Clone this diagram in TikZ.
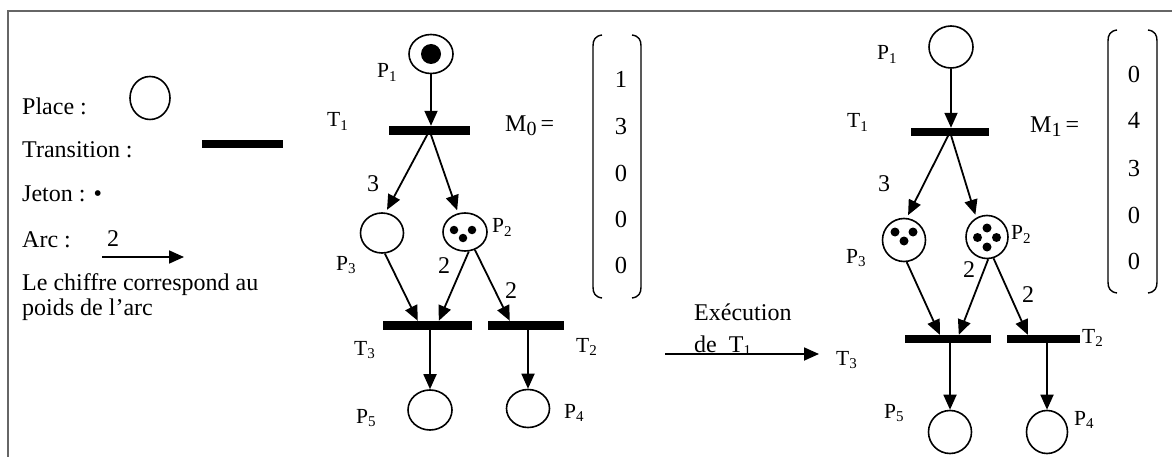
\documentclass[tikz,border=0pt]{standalone}
\usepackage{fontspec}
\setmainfont{Liberation Serif}
\usetikzlibrary{arrows.meta,shapes.geometric,calc}
\newcommand{\psub}[1]{\raisebox{-0.35ex}{\fontsize{15}{15}\selectfont #1}}
\newcommand{\msub}[1]{\raisebox{-0.3ex}{\fontsize{20}{20}\selectfont #1}}
\begin{document}
\begin{tikzpicture}[x=1pt,y=-1pt,
  place/.style={ellipse,draw,line width=1.6pt,minimum width=44pt,minimum height=40pt,inner sep=0pt},
  trans/.style={rectangle,fill=black,inner sep=0pt,minimum height=9pt},
  tok/.style={circle,fill=black,inner sep=0pt,minimum size=8.5pt},
  arc/.style={line width=1.8pt,-{Triangle[length=15pt,width=13pt]}},
  lbl/.style={anchor=base west,inner sep=0pt,font=\fontsize{21.5}{21.5}\selectfont},
  txt/.style={anchor=base west,inner sep=0pt,font=\fontsize{24}{27}\selectfont},
  val/.style={anchor=base,inner sep=0pt,font=\fontsize{24.5}{24.5}\selectfont},
  brk/.style={line width=1.4pt},
  frame/.style={draw=black!60,line width=1.5pt}
]
\useasboundingbox (0,0) rectangle (1172,457);
% frame
\draw[frame] (8,457) -- (8,11) -- (1172,11);

% ---------- legend ----------
\node[txt] (lplace) at (22,115) {Place :};
\node[place,minimum width=40pt,minimum height=43pt] (lp) at (150,98) {};
\node[txt] (ltrans) at (22,158) {Transition :};
\node[trans,minimum width=81pt,minimum height=8pt] (lt) at (242.5,144) {};
\node[txt] (ljeton) at (22,202) {Jeton : •};
\node[txt] (larc) at (22,247) {Arc :};
\node[txt] (ltwo) at (107,246) {2};
\coordinate (la) at (102,257);
\coordinate (lb) at (184,257);
\draw[arc] (la) -- (lb);
\node[txt] (lchif) at (22,290) {Le chiffre correspond au};
\node[txt] (lpoids) at (22,315) {poids de l’arc};

% ---------- middle net (M0) ----------
\node[place,minimum height=39pt] (p1) at (431,54) {};
\node[tok,minimum size=20pt] (p1t) at (431,54) {};
\node[lbl] (p1l) at (377,78) {P\psub{1}};
\node[trans,minimum width=81pt] (t1) at (429.5,130.5) {};
\node[lbl] (t1l) at (327,127) {T\psub{1}};
\node[txt] (m0) at (505,132) {M\msub{0}\,=};

\node[place,minimum width=43pt] (p3) at (382,233) {};
\node[place,minimum height=38pt] (p2) at (465,232) {};
\node[tok] (p2a) at (454,230) {};
\node[tok] (p2b) at (472,230) {};
\node[tok] (p2c) at (463,238) {};
\node[lbl] (p2l) at (492,233) {P\psub{2}};
\node[lbl] (p3l) at (336,270) {P\psub{3}};
\node[txt] (w3) at (367,192) {3};

\node[trans,minimum width=89pt] (t3) at (427.5,325.5) {};
\node[trans,minimum width=76pt] (t2) at (526,325.5) {};
\node[lbl] (t3l) at (354,355) {T\psub{3}};
\node[lbl] (t2l) at (576,352) {T\psub{2}};
\node[txt] (w2a) at (438,273) {2};
\node[txt] (w2b) at (505,298) {2};

\node[place] (p5) at (430,410) {};
\node[place,minimum width=43pt,minimum height=38pt] (p4) at (528,408.5) {};
\node[lbl] (p5l) at (356,423) {P\psub{5}};
\node[lbl] (p4l) at (564,418) {P\psub{4}};

\draw[arc] (p1) -- (p1 |- t1.north);
\draw[arc,shorten >=3pt] (t1.center) -- (p3.80);
\draw[arc,shorten >=3pt] (t1.center) -- (p2.110);
\draw[arc] (p3.278) -- ($(t3.north west)+(35,0)$);
\draw[arc] (p2.281) -- ($(t3.north west)+(56,0)$);
\draw[arc] (p2.299) -- ($(t2.north west)+(22,0)$);
\draw[arc] (t3.south -| p5) -- (p5);
\draw[arc] (t2.south -| p4) -- (p4);

% M0 vector
\draw[brk] (602,35) .. controls (595,36) and (593,40) .. (593,46) -- (593,287) .. controls (593,293) and (595,297) .. (602,298);
\draw[brk] (632,35) .. controls (639,36) and (641,40) .. (641,46) -- (641,287) .. controls (641,293) and (639,297) .. (632,298);
\node[val] (v01) at (621,88) {1};
\node[val] (v02) at (621,135) {3};
\node[val] (v03) at (621,182) {0};
\node[val] (v04) at (621,227) {0};
\node[val] (v05) at (621,273) {0};

% ---------- execution arrow ----------
\node[txt] (ex1) at (694,320) {Exécution};
\node[txt] (ex2) at (694,352) {de\ \ T\psub{1}};
\coordinate (ea) at (665,354);
\coordinate (eb) at (819,354);
\draw[arc] (ea) -- (eb);

% ---------- right net (M1) ----------
\node[place,minimum height=42pt] (q1) at (951,47) {};
\node[lbl] (q1l) at (877,60) {P\psub{1}};
\node[trans,minimum width=78pt,minimum height=8pt] (u1) at (950,132) {};
\node[lbl] (u1l) at (847,128) {T\psub{1}};
\node[txt] (m1) at (1030,133) {M\msub{1}\,=};

\node[place,minimum width=43pt,minimum height=43pt] (q3) at (904,240) {};
\node[tok,minimum size=9pt] (q3a) at (895,232) {};
\node[tok,minimum size=9pt] (q3b) at (913,232) {};
\node[tok,minimum size=9pt] (q3c) at (904,241) {};
\node[place,minimum width=42pt,minimum height=43pt] (q2) at (987,237) {};
\node[tok,minimum size=9pt] (q2a) at (987,228) {};
\node[tok,minimum size=9pt] (q2b) at (977.5,237.5) {};
\node[tok,minimum size=9pt] (q2c) at (996.5,237.5) {};
\node[tok,minimum size=9pt] (q2d) at (987,247) {};
\node[lbl] (q2l) at (1011,240) {P\psub{2}};
\node[lbl] (q3l) at (846,263) {P\psub{3}};
\node[txt] (x3) at (878,192) {3};

\node[trans,minimum width=86pt,minimum height=8pt] (u3) at (948,339) {};
\node[trans,minimum width=73pt,minimum height=8pt] (u2) at (1043.5,339) {};
\node[lbl] (u3l) at (836,365) {T\psub{3}};
\node[lbl] (u2l) at (1082,343) {T\psub{2}};
\node[txt] (x2a) at (963,277) {2};
\node[txt] (x2b) at (1022,302) {2};

\node[place,minimum width=43pt,minimum height=43pt] (q5) at (950,432) {};
\node[place,minimum width=41pt,minimum height=43pt] (q4) at (1047,432) {};
\node[lbl] (q5l) at (884,418) {P\psub{5}};
\node[lbl] (q4l) at (1074,425) {P\psub{4}};

\draw[arc] (q1) -- (q1 |- u1.north);
\draw[arc,shorten >=3pt] (u1.center) -- (q3.83);
\draw[arc,shorten >=3pt] (u1.center) -- (q2.119);
\draw[arc] (q3.277) -- ($(u3.north west)+(35,0)$);
\draw[arc] (q2.273) -- ($(u3.north west)+(54,0)$);
\draw[arc] (q2.287) -- ($(u2.north west)+(21,0)$);
\draw[arc] (u3.south -| q5) -- (q5);
\draw[arc] (u2.south -| q4) -- (q4);

% M1 vector
\draw[brk] (1117,30) .. controls (1110,31) and (1108,35) .. (1108,41) -- (1108,282) .. controls (1108,288) and (1110,292) .. (1117,293);
\draw[brk] (1148,30) .. controls (1155,31) and (1157,35) .. (1157,41) -- (1157,282) .. controls (1157,288) and (1155,292) .. (1148,293);
\node[val] (w01) at (1134,83) {0};
\node[val] (w02) at (1134,129) {4};
\node[val] (w03) at (1134,177) {3};
\node[val] (w04) at (1134,223) {0};
\node[val] (w05) at (1134,269) {0};
\end{tikzpicture}
\end{document}
